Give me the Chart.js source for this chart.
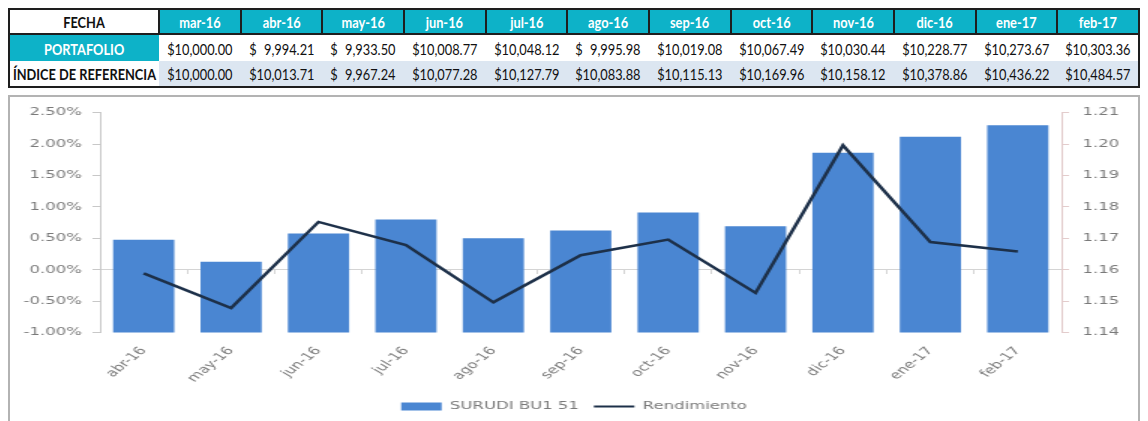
<!DOCTYPE html>
<html>
<head>
<meta charset="utf-8">
<script src="https://cdn.jsdelivr.net/npm/chart.js@4.4.1/dist/chart.umd.min.js"></script>
<style>
  body { margin: 0; background: #fff; }
  #tabla {
    position: absolute; left: 8px; top: 8px; width: 1132px;
    border-collapse: collapse; table-layout: fixed;
    border: 2px solid #1e1e1e;
    font-family: Lato, "Noto Sans", sans-serif;
    font-size: 16px; color: #111;
  }
  #tabla td { padding: 0; text-align: center; white-space: nowrap; }
  #tabla td span { display: inline-block; margin: 0 -20px; transform: scaleX(0.8); transform-origin: 50% 50%; }
  #tabla tr.head td { height: 23px; font-weight: bold; border: 2px solid #1e1e1e; background: #0db2c8; color: #fff; }
  #tabla tr.head td.first { background: #fff; color: #111; }
  #tabla tr.port td { height: 26px; background: #fff; }
  #tabla tr.port td.first { background: #0db2c8; color: #fff; font-weight: bold; }
  #tabla tr.ind td { height: 25px; background: #dce6f1; }
  #tabla tr.ind td.first { background: #fff; font-weight: bold; }
  #marco {
    position: absolute; left: 8px; top: 95px; width: 1132px; height: 342px;
    box-sizing: border-box; border: 2px solid #b3b3b3; background: #fff; overflow: hidden;
  }
  #estirado {
    position: absolute; left: 0; top: 0; width: 752px; height: 336px;
    transform: scaleX(1.5); transform-origin: 0 0;
  }
</style>
</head>
<body>
<table id="tabla"></table>
<div id="marco"><div id="estirado"><canvas id="rendChart"></canvas></div></div>

<script>
// tabla
var fechas = ['mar-16', 'abr-16', 'may-16', 'jun-16', 'jul-16', 'ago-16', 'sep-16', 'oct-16', 'nov-16', 'dic-16', 'ene-17', 'feb-17'];
var portafolio = [10000.00, 9994.21, 9933.50, 10008.77, 10048.12, 9995.98, 10019.08, 10067.49, 10030.44, 10228.77, 10273.67, 10303.36];
var indiceRef = [10000.00, 10013.71, 9967.24, 10077.28, 10127.79, 10083.88, 10115.13, 10169.96, 10158.12, 10378.86, 10436.22, 10484.57];

// grafica
var meses = ['abr-16', 'may-16', 'jun-16', 'jul-16', 'ago-16', 'sep-16', 'oct-16', 'nov-16', 'dic-16', 'ene-17', 'feb-17'];
var surudi = [1.1695, 1.1625, 1.1715, 1.1760, 1.1700, 1.1725, 1.1782, 1.1738, 1.1972, 1.2023, 1.2060];
var rendimiento = [-0.06, -0.61, 0.76, 0.39, -0.52, 0.23, 0.48, -0.37, 1.98, 0.44, 0.29];

function moneda(v) {
    // formato contable: hueco de un digito cuando el numero es mas corto
    return '$' + (v < 10000 ? '\u2007' : '') + v.toLocaleString('en-US', {minimumFractionDigits: 2, maximumFractionDigits: 2});
}
function celda(t) { return '<td><span>' + t + '</span></td>'; }

var html = '<colgroup><col style="width:150px">';
for (var i = 0; i < fechas.length; i++) html += '<col>';
html += '</colgroup>';
html += '<tr class="head"><td class="first"><span>FECHA</span></td>' + fechas.map(celda).join('') + '</tr>';
html += '<tr class="port"><td class="first"><span>PORTAFOLIO</span></td>' + portafolio.map(function (v) { return celda(moneda(v)); }).join('') + '</tr>';
html += '<tr class="ind"><td class="first"><span>ÍNDICE DE REFERENCIA</span></td>' + indiceRef.map(function (v) { return celda(moneda(v)); }).join('') + '</tr>';
document.getElementById('tabla').innerHTML = html;

var gris = '#7a7a7a';
var fuente = { family: 'DejaVu Sans', size: 11 };

var ctx = document.getElementById('rendChart').getContext('2d');
var myChart = new Chart(ctx, {
    type: 'bar',
    data: {
        labels: meses,
        datasets: [{
            label: 'SURUDI BU1 51',
            data: surudi,
            yAxisID: 'y1',
            backgroundColor: '#4a86d2',
            barPercentage: 0.7,
            categoryPercentage: 1,
            order: 1
        }, {
            type: 'line',
            label: 'Rendimiento',
            data: rendimiento,
            yAxisID: 'y',
            borderColor: '#1d3049',
            backgroundColor: '#1d3049',
            borderWidth: 2.5,
            pointRadius: 0,
            tension: 0,
            order: 0
        }]
    },
    options: {
        responsive: true,
        maintainAspectRatio: false,
        animation: false,
        layout: { padding: { top: 14, bottom: 11, left: 0, right: 0 } },
        plugins: {
            tooltip: { enabled: false },
            legend: {
                position: 'bottom',
                labels: {
                    color: gris,
                    font: fuente,
                    usePointStyle: true,
                    pointStyleWidth: 27,
                    boxHeight: 8,
                    padding: 10,
                    sort: function (a, b) { return a.datasetIndex - b.datasetIndex; },
                    generateLabels: function (chart) {
                        var items = Chart.defaults.plugins.legend.labels.generateLabels(chart);
                        items.forEach(function (it) {
                            it.pointStyle = it.datasetIndex === 0 ? 'rect' : 'line';
                            if (it.datasetIndex === 0) it.lineWidth = 0;
                            else it.lineWidth = 2;
                        });
                        return items;
                    }
                }
            }
        },
        scales: {
            x: {
                offset: true,
                grid: { display: false, offset: true },
                border: { display: false },
                ticks: { color: gris, font: fuente, minRotation: 50, maxRotation: 50, padding: 4 },
                afterFit: function (scale) { scale.height = 58.5; }
            },
            x2: {
                type: 'category',
                position: { y: 0 },
                offset: true,
                grid: { drawOnChartArea: false, offset: true, tickLength: 4, color: '#d4d4d4' },
                border: { color: '#d4d4d4' },
                ticks: { display: false }
            },
            y: {
                position: 'left',
                min: -1,
                max: 2.5,
                grid: { drawOnChartArea: false, tickLength: 5, color: '#c8c8c8' },
                border: { color: '#c8c8c8' },
                ticks: {
                    stepSize: 0.5,
                    color: gris,
                    font: fuente,
                    padding: 7,
                    callback: function (v) { return v.toFixed(2) + '%'; }
                },
                afterFit: function (scale) { scale.width = 60; }
            },
            y1: {
                position: 'right',
                min: 1.14,
                max: 1.21,
                beginAtZero: false,
                grid: { drawOnChartArea: false, tickLength: 5, color: '#e3cccc' },
                border: { color: '#e3cccc' },
                ticks: {
                    stepSize: 0.01,
                    color: gris,
                    font: fuente,
                    padding: 9,
                    callback: function (v) { return v.toFixed(2); }
                },
                afterFit: function (scale) { scale.width = 51; }
            }
        }
    }
});
</script>
</body>
</html>
